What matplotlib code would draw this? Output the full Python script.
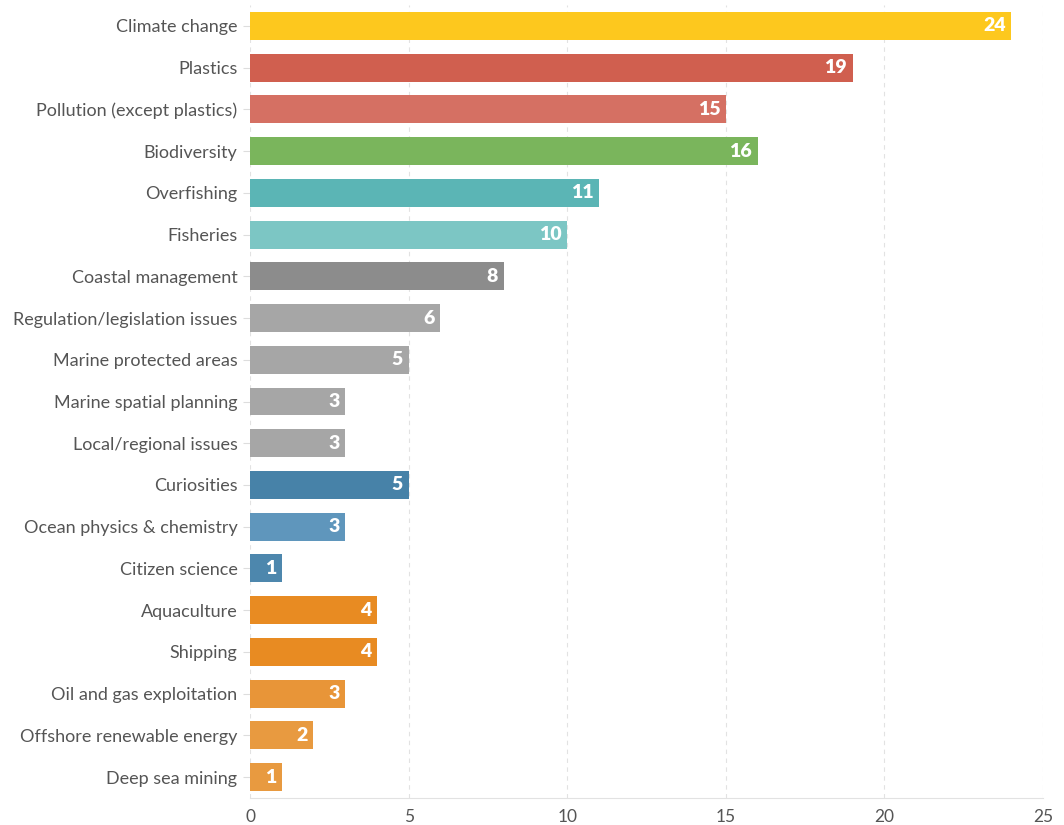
import matplotlib
matplotlib.use("Agg")
import matplotlib.pyplot as plt

categories = [
    "Climate change", "Plastics", "Pollution (except plastics)", "Biodiversity",
    "Overfishing", "Fisheries", "Coastal management", "Regulation/legislation issues",
    "Marine protected areas", "Marine spatial planning", "Local/regional issues",
    "Curiosities", "Ocean physics & chemistry", "Citizen science", "Aquaculture",
    "Shipping", "Oil and gas exploitation", "Offshore renewable energy", "Deep sea mining",
]
values = [24, 19, 15, 16, 11, 10, 8, 6, 5, 3, 3, 5, 3, 1, 4, 4, 3, 2, 1]
colors = [
    "#FDC81E", "#D05F4F", "#D57063", "#7AB55C",
    "#5BB5B5", "#7CC6C4", "#8C8C8C", "#A6A6A6",
    "#A6A6A6", "#A6A6A6", "#A6A6A6",
    "#4782A8", "#5F96BC", "#4D87AD", "#E88B22",
    "#E88B22", "#E89538", "#E89A40", "#E89A40",
]
x_ticks = [0, 5, 10, 15, 20, 25]

plt.rcParams['font.family'] = ['Lato', 'DejaVu Sans']

fig = plt.figure(figsize=(10.64, 8.25), dpi=100)
ax = fig.add_axes([250 / 1064, 27 / 825, 793 / 1064, 793 / 825])

ypos = list(range(len(categories)))
ax.barh(ypos, values, height=0.67, color=colors, zorder=3)

for y, v in zip(ypos, values):
    ax.annotate(str(v), xy=(v, y), xytext=(-4, 0), textcoords="offset points",
                ha="right", va="center", color="white", fontweight="heavy",
                fontsize=14, zorder=4)

ax.set_ylim(len(categories) - 0.5, -0.5)
ax.set_xlim(0, 25)
ax.set_yticks(ypos)
ax.set_yticklabels(categories, fontsize=13, color="#555555")
ax.set_xticks(x_ticks)
ax.set_xticklabels([str(t) for t in x_ticks], fontsize=12.5, color="#555555")

ax.tick_params(axis="y", length=5, color="#dddddd", pad=4)
ax.tick_params(axis="x", length=0, pad=8)

ax.grid(axis="x", color="#e2e2e2", linestyle=(0, (4, 4)), linewidth=0.8, zorder=0)
for side in ["top", "right", "left"]:
    ax.spines[side].set_visible(False)
ax.spines["bottom"].set_color("#e2e2e2")

fig.savefig("out.png", dpi=100)
